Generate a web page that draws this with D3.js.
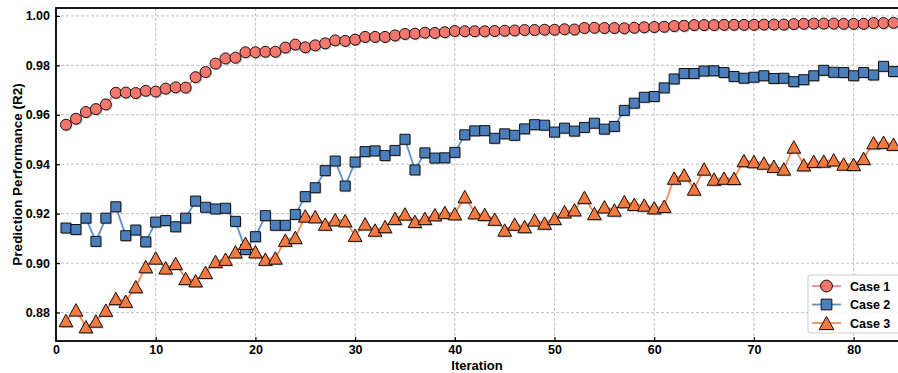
<!DOCTYPE html>
<html>
<head>
<meta charset="utf-8">
<script src="https://cdn.jsdelivr.net/npm/d3@7"></script>
<style>
  body { margin: 0; background: #fff; }
  svg { display: block; font-family: "Liberation Sans", Arial, sans-serif; }
</style>
</head>
<body>
<svg id="chart" width="898" height="373"></svg>
<script>
// Prediction performance per iteration, three cases.

var iterations = d3.range(1, 85);

var case1 = [0.9560, 0.9584, 0.9611, 0.9623, 0.9642, 0.9689, 0.9690, 0.9688, 0.9697, 0.9694,
             0.9706, 0.9711, 0.9710, 0.9752, 0.9773, 0.9807, 0.9828, 0.9831, 0.9853, 0.9853,
             0.9855, 0.9855, 0.9872, 0.9884, 0.9873, 0.9881, 0.9889, 0.9901, 0.9899, 0.9904,
             0.9915, 0.9915, 0.9915, 0.9921, 0.9927, 0.9928, 0.9932, 0.9931, 0.9934, 0.9939,
             0.9938, 0.9938, 0.9938, 0.9939, 0.9940, 0.9941, 0.9943, 0.9943, 0.9944, 0.9944,
             0.9946, 0.9945, 0.9951, 0.9952, 0.9951, 0.9951, 0.9950, 0.9952, 0.9954, 0.9955,
             0.9956, 0.9959, 0.9960, 0.9963, 0.9963, 0.9963, 0.9964, 0.9964, 0.9964, 0.9964,
             0.9965, 0.9965, 0.9965, 0.9967, 0.9968, 0.9969, 0.9969, 0.9969, 0.9968, 0.9968,
             0.9968, 0.9971, 0.9971, 0.9972];

var case2 = [0.9142, 0.9136, 0.9182, 0.9088, 0.9182, 0.9228, 0.9111, 0.9134, 0.9086, 0.9166,
             0.9172, 0.9147, 0.9182, 0.9251, 0.9226, 0.9219, 0.9222, 0.9169, 0.9055, 0.9107,
             0.9192, 0.9153, 0.9153, 0.9197, 0.9269, 0.9305, 0.9374, 0.9413, 0.9312, 0.9409,
             0.9451, 0.9454, 0.9435, 0.9456, 0.9501, 0.9377, 0.9446, 0.9425, 0.9426, 0.9448,
             0.9519, 0.9535, 0.9536, 0.9505, 0.9523, 0.9517, 0.9543, 0.9560, 0.9558, 0.9530,
             0.9546, 0.9534, 0.9549, 0.9566, 0.9542, 0.9553, 0.9618, 0.9647, 0.9671, 0.9674,
             0.9709, 0.9745, 0.9767, 0.9767, 0.9777, 0.9778, 0.9771, 0.9755, 0.9748, 0.9752,
             0.9758, 0.9747, 0.9748, 0.9734, 0.9742, 0.9758, 0.9780, 0.9772, 0.9771, 0.9758,
             0.9771, 0.9761, 0.9796, 0.9775];

var case3 = [0.8768, 0.8811, 0.8743, 0.8766, 0.8810, 0.8857, 0.8846, 0.8905, 0.8986, 0.9021,
             0.8981, 0.8999, 0.8938, 0.8929, 0.8963, 0.9007, 0.9016, 0.9046, 0.9080, 0.9046,
             0.9016, 0.9021, 0.9093, 0.9104, 0.9191, 0.9188, 0.9158, 0.9176, 0.9172, 0.9113,
             0.9159, 0.9134, 0.9148, 0.9181, 0.9199, 0.9169, 0.9181, 0.9196, 0.9205, 0.9200,
             0.9269, 0.9204, 0.9197, 0.9178, 0.9134, 0.9158, 0.9148, 0.9175, 0.9162, 0.9181,
             0.9208, 0.9216, 0.9266, 0.9201, 0.9228, 0.9215, 0.9249, 0.9238, 0.9235, 0.9224,
             0.9230, 0.9344, 0.9357, 0.9300, 0.9381, 0.9340, 0.9344, 0.9343, 0.9415, 0.9411,
             0.9405, 0.9392, 0.9381, 0.9470, 0.9398, 0.9412, 0.9413, 0.9418, 0.9401, 0.9400,
             0.9424, 0.9487, 0.9489, 0.9481];

var seriesNames = ["Case 1", "Case 2", "Case 3"];
var xTicks = [0, 10, 20, 30, 40, 50, 60, 70, 80];
var yTicks = [0.88, 0.90, 0.92, 0.94, 0.96, 0.98, 1.00];

// triangle centred on its bounding box (like matplotlib's "^"), not on its centroid
var triangleUp = {
  draw: function(context, size) {
    var h = Math.sqrt(size) * 0.62;
    context.moveTo(0, -h);
    context.lineTo(h * 1.1, h);
    context.lineTo(-h * 1.1, h);
    context.closePath();
  }
};

var series = [
  { name: seriesNames[0], values: case1, symbol: d3.symbolCircle, size: 95,  fill: "#f4766c", line: "#f58a82" },
  { name: seriesNames[1], values: case2, symbol: d3.symbolSquare, size: 100, fill: "#4a7fbb", line: "#5b90c9" },
  { name: seriesNames[2], values: case3, symbol: triangleUp,      size: 100, fill: "#f57a40", line: "#f78a58" }
];

/* Layout (don't call these "top" -- window.top is read-only) */
var svg = d3.select("#chart");
var pLeft = 56, pTop = 8, pRight = 898, pBottom = 341;

var x = d3.scaleLinear().domain([0, 84.45]).range([pLeft, pRight]);
var y = d3.scaleLinear().domain([0.8685, 1.0032]).range([pBottom, pTop]);

// clip so markers past the right edge are cut like the original
svg.append("defs").append("clipPath").attr("id", "plotclip")
  .append("rect").attr("x", pLeft).attr("y", pTop).attr("width", pRight - pLeft).attr("height", pBottom - pTop);

// Grid lines
var grid = svg.append("g").attr("class", "grid");
grid.selectAll("line.gx").data(xTicks.filter(function(d) { return d > 0; }))
  .enter().append("line")
  .attr("x1", function(d) { return x(d); }).attr("x2", function(d) { return x(d); })
  .attr("y1", pTop).attr("y2", pBottom)
  .style("stroke", "#b0b0b0").style("stroke-width", 0.8).style("stroke-dasharray", "3,2");
grid.selectAll("line.gy").data(yTicks)
  .enter().append("line")
  .attr("x1", pLeft).attr("x2", pRight)
  .attr("y1", function(d) { return y(d); }).attr("y2", function(d) { return y(d); })
  .style("stroke", "#b0b0b0").style("stroke-width", 0.8).style("stroke-dasharray", "3,2");

// Axes (ticks point inward)
var xAxis = svg.append("g").attr("transform", "translate(0," + pBottom + ")")
  .call(d3.axisBottom(x).tickValues(xTicks).tickSize(-4).tickPadding(4).tickFormat(d3.format("d")));
var yAxis = svg.append("g").attr("transform", "translate(" + pLeft + ",0)")
  .call(d3.axisLeft(y).tickValues(yTicks).tickSize(-4).tickPadding(6).tickFormat(d3.format(".2f")));
[xAxis, yAxis].forEach(function(a) {
  a.select(".domain").remove();
  a.selectAll(".tick line").style("stroke", "#000").style("stroke-width", 1.2);
  a.selectAll(".tick text").style("font-size", "12.5px").style("font-weight", "bold")
    .style("fill", "#000").style("font-family", "Liberation Sans, Arial, sans-serif");
});

// Frame
svg.append("rect").attr("x", pLeft).attr("y", pTop).attr("width", pRight - pLeft + 2).attr("height", pBottom - pTop)
  .style("fill", "none").style("stroke", "#000").style("stroke-width", 1.8);

// Lines and markers
var plot = svg.append("g").attr("clip-path", "url(#plotclip)");
series.forEach(function(s) {
  var pts = s.values.map(function(v, i) { return [iterations[i], v]; });
  var line = d3.line().x(function(d) { return x(d[0]); }).y(function(d) { return y(d[1]); });
  plot.append("path").datum(pts).attr("d", line)
    .style("fill", "none").style("stroke", s.line).style("stroke-width", 1.8);
});
series.forEach(function(s) {
  var pts = s.values.map(function(v, i) { return [iterations[i], v]; });
  var sym = d3.symbol().type(s.symbol).size(s.size);
  var g = plot.append("g");
  // soft shadow under each marker
  g.selectAll("path.shadow").data(pts).enter().append("path")
    .attr("d", sym)
    .attr("transform", function(d) { return "translate(" + (x(d[0]) + 1.2) + "," + (y(d[1]) + 1.2) + ")"; })
    .style("fill", "#777").style("opacity", 0.45);
  g.selectAll("path.mark").data(pts).enter().append("path")
    .attr("d", sym)
    .attr("transform", function(d) { return "translate(" + x(d[0]) + "," + y(d[1]) + ")"; })
    .style("fill", s.fill).style("stroke", "#111").style("stroke-width", 1);
});

// Axis labels
svg.append("text").attr("x", (pLeft + pRight) / 2).attr("y", 370).attr("text-anchor", "middle")
  .style("font-size", "13px").style("font-weight", "bold").text("Iteration");
svg.append("text").attr("transform", "translate(22," + ((pTop + pBottom) / 2) + ") rotate(-90)")
  .attr("text-anchor", "middle").style("font-size", "13.5px").style("font-weight", "bold")
  .text("Prediction Performance (R2)");

// Legend
var legend = svg.append("g").attr("transform", "translate(808,275)");
legend.append("rect").attr("width", 96).attr("height", 58).attr("rx", 2)
  .style("fill", "#fff").style("fill-opacity", 0.85).style("stroke", "#ccc").style("stroke-width", 1);
series.forEach(function(s, i) {
  var ly = 11 + i * 18.5;
  legend.append("line").attr("x1", 4).attr("x2", 33).attr("y1", ly).attr("y2", ly)
    .style("stroke", s.line).style("stroke-width", 1.8);
  legend.append("path").attr("d", d3.symbol().type(s.symbol).size(s.size + 15))
    .attr("transform", "translate(18.5," + ly + ")")
    .style("fill", s.fill).style("stroke", "#111").style("stroke-width", 1);
  legend.append("text").attr("x", 42).attr("y", ly + 4.5)
    .style("font-size", "12.5px").style("font-weight", "bold").text(s.name);
});
</script>
</body>
</html>
